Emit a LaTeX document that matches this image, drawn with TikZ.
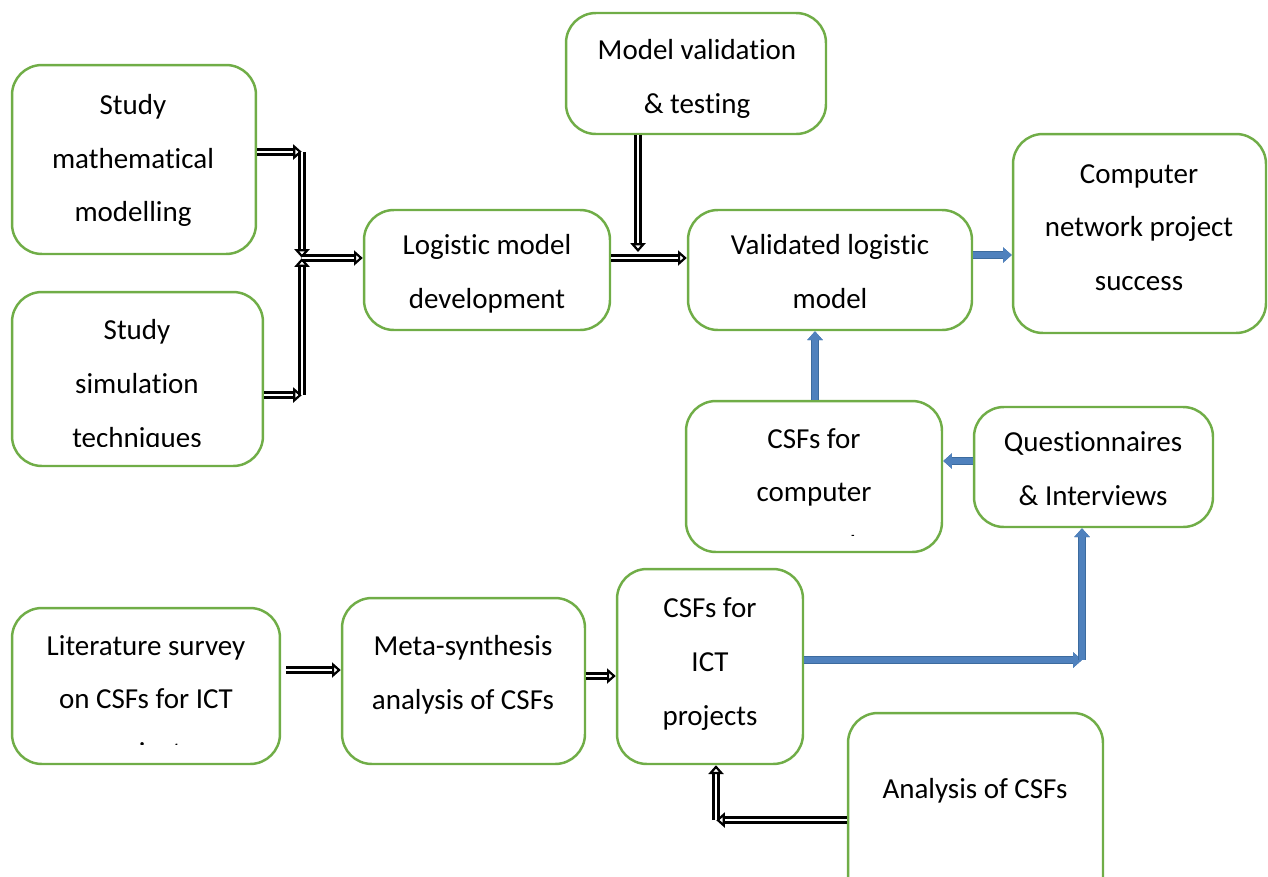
\documentclass[tikz,border=0pt]{standalone}
\usepackage{fontspec}
\setmainfont{Carlito}[Ligatures=NoCommon]
\usetikzlibrary{arrows.meta,calc}
\definecolor{boxgreen}{HTML}{70AD47}
\definecolor{flowblue}{HTML}{4F81BD}
\definecolor{flowblueedge}{HTML}{3C6B9E}
% strut that fixes the depth of the last line of a label
\newcommand\lnstr{\rule[-3.4pt]{0pt}{19.8pt}}

\begin{document}
\begin{tikzpicture}[x=0.02cm,y=-0.02cm,
  box/.style={draw=boxgreen, line width=1.4pt, rounded corners=17pt, fill=white, inner sep=0pt},
  txt/.style={align=center, font=\fontsize{16.5}{30.6}\selectfont, inner sep=0pt,
    execute at begin node=\lnstr, execute at end node=\lnstr},
  hollow/.style={draw=black, line width=1.3pt, double=white, double distance=1.4pt,
    -{Triangle[open, length=5pt, width=8.5pt, fill=white]}},
  bluearrow/.style={draw=flowblue, line width=3.8pt, -{Triangle[length=5pt,width=8.5pt]},
    preaction={draw=flowblueedge, line width=4.6pt, -{Triangle[length=5pt,width=8.5pt]}}}
]
\useasboundingbox (0,0) rectangle (1268,876);
\clip (0,0) rectangle (1268,876);

% boxes
\node[box, minimum width=48.8mm, minimum height=37.8mm] (m1) at (134,159.5) {};
\node[box, minimum width=50.2mm, minimum height=34.8mm] (m2) at (137.5,379) {};
\node[box, minimum width=49.2mm, minimum height=24mm]   (ld) at (487,270) {};
\node[box, minimum width=52mm,   minimum height=24.2mm] (mv) at (696,73.5) {};
\node[box, minimum width=56.8mm, minimum height=24mm]   (va) at (830,270) {};
\node[box, minimum width=50.6mm, minimum height=39.8mm] (cn) at (1139.5,233.5) {};
\node[box, minimum width=51.2mm, minimum height=30.2mm] (cc) at (814,476.5) {};
\node[box, minimum width=47.8mm, minimum height=24mm]   (qi) at (1093.5,467) {};
\node[box, minimum width=53.6mm, minimum height=31.2mm] (lit) at (146,686) {};
\node[box, minimum width=48.6mm, minimum height=33.2mm] (ms) at (463.5,681) {};
\node[box, minimum width=37.2mm, minimum height=39mm]   (ci) at (710,666.5) {};
\node[box, minimum width=51mm,   minimum height=39.4mm] (an) at (975.5,811.5) {};

% labels
\node[txt] (t1) at (133,161) {Study\\mathematical\\modelling};
\begin{scope}
  \clip (12,292) rectangle (263,446);
  \node[txt] (t2) at (137,386.5) {Study\\simulation\\techniques};
\end{scope}
\node[txt] (t3) at (487,274.5) {Logistic model\\development};
\node[txt] (t4) at (697,79.5) {Model validation\\\& testing};
\node[txt] (t5) at (830,274.5) {Validated logistic\\model};
\node[txt] (t6) at (1139,230.5) {Computer\\network project\\success};
\begin{scope}
  \clip (686,401) rectangle (942,535);
  \node[txt] (t7) at (814,495) {CSFs for\\computer\\network};
\end{scope}
\node[txt] (t8) at (1093,471.5) {Questionnaires\\\& Interviews};
\begin{scope}
  \clip (12,608) rectangle (280,744);
  \node[txt] (t9) at (146,702) {Literature survey\\on CSFs for ICT\\projects};
\end{scope}
\node[txt] (t10) at (463,675.5) {Meta-synthesis\\analysis of CSFs};
\node[txt] (t11) at (710,664.5) {CSFs for\\ICT\\projects};
\node[txt] (t12) at (975,787) {Analysis of CSFs};

% black connectors
\coordinate (c1) at (302,152);
\coordinate (jn) at (302,258);
\coordinate (c2) at (302,395);
\draw[hollow] (m1.east |- c1) -- (c1);
\draw[hollow] (c1) -- (jn);
\draw[hollow] (m2.east |- c2) -- (c2);
\draw[hollow] (c2) -- (jn);
\draw[hollow] (jn) -- (ld.west |- jn);

\coordinate (mvd) at (638,252);
\draw[hollow] (mv.south -| mvd) -- (mvd);
\coordinate (lh) at (610,258);
\draw[hollow] (ld.east |- lh) -- (va.west |- lh);

\coordinate (lh2) at (285,670);
\draw[hollow, shorten <=1mm] (lit.east |- lh2) -- (ms.west |- lh2);
\coordinate (mh) at (582,676);
\draw[hollow] (ms.east |- mh) -- (ci.west |- mh);
\coordinate (c4) at (716,820);
\draw[hollow] (an.west |- c4) -- (c4);
\draw[hollow] (c4) -- (ci.south -| c4);

% blue connectors
\coordinate (vh) at (990,255);
\draw[bluearrow] (va.east |- vh) -- (cn.west |- vh);
\coordinate (cv) at (815,360);
\draw[bluearrow] (cc.north -| cv) -- (va.south -| cv);
\coordinate (qh) at (960,461);
\draw[bluearrow] (qi.west |- qh) -- (cc.east |- qh);
\coordinate (c3) at (1082,660);
\draw[bluearrow] (ci.east |- c3) -- (c3);
\draw[bluearrow] (c3) -- (qi.south -| c3);
\end{tikzpicture}
\end{document}
